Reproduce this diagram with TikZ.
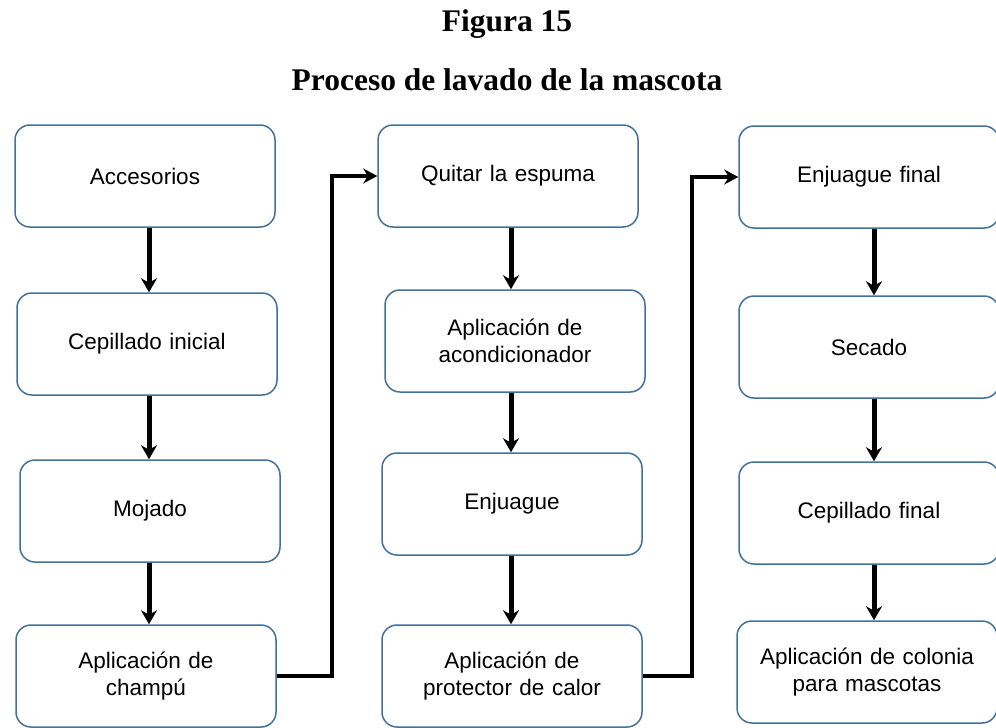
\documentclass[tikz,border=0pt]{standalone}
\usepackage{fontspec}
\setmainfont{Liberation Serif}
\newfontfamily\boxfont{Liberation Sans}
\usetikzlibrary{arrows.meta}
\definecolor{boxblue}{RGB}{65,113,156}
\begin{document}
\begin{tikzpicture}[x=1pt,y=-1pt,
  stepbox/.style={draw=boxblue, line width=1.5pt, rounded corners=15pt, fill=white,
    minimum width=260pt, minimum height=102pt, align=center, text width=250pt,
    font=\boxfont\fontsize{22.5}{27}\selectfont},
  flow/.style={line width=5pt, -{Stealth[length=14pt,width=16pt]}},
  link/.style={line width=4pt, -{Stealth[length=14pt,width=15pt]}}]
\useasboundingbox (0,0) rectangle (996,728);
\node[font=\bfseries\fontsize{31.5}{36}\selectfont] (t1) at (507,24) {Figura 15};
\node[font=\bfseries\fontsize{31.5}{36}\selectfont] (t2) at (507,80) {Proceso de lavado de la mascota};

\node[stepbox] (a1) at (145,176) {Accesorios};
\node[stepbox] (a2) at (147,344) {Cepillado inicial};
\node[stepbox] (a3) at (150,511) {Mojado};
\node[stepbox] (a4) at (146,676) {Aplicación de\\champú};

\node[stepbox] (b1) at (508,176) {Quitar la espuma};
\node[stepbox] (b2) at (515,341) {Aplicación de\\acondicionador};
\node[stepbox] (b3) at (512,504) {Enjuague};
\node[stepbox] (b4) at (512,676) {Aplicación de\\protector de calor};

\node[stepbox] (c1) at (869,177) {Enjuague final};
\node[stepbox] (c2) at (869,347) {Secado};
\node[stepbox] (c3) at (869,513) {Cepillado final};
\node[stepbox] (c4) at (867,672) {Aplicación de colonia\\para mascotas};

\coordinate (xa) at (149,0);
\coordinate (xb) at (511,0);
\coordinate (xc) at (874,0);
\draw[flow] (xa |- a1.south) -- (xa |- a2.north);
\draw[flow] (xa |- a2.south) -- (xa |- a3.north);
\draw[flow] (xa |- a3.south) -- (xa |- a4.north);
\draw[flow] (xb |- b1.south) -- (xb |- b2.north);
\draw[flow] (xb |- b2.south) -- (xb |- b3.north);
\draw[flow] (xb |- b3.south) -- (xb |- b4.north);
\draw[flow] (xc |- c1.south) -- (xc |- c2.north);
\draw[flow] (xc |- c2.south) -- (xc |- c3.north);
\draw[flow] (xc |- c3.south) -- (xc |- c4.north);

\draw[link] (a4.east) -| ([xshift=-45pt]b1.west) -- (b1.west);
\draw[link] (b4.east) -| ([xshift=-46pt]c1.west) -- (c1.west);
\end{tikzpicture}
\end{document}
